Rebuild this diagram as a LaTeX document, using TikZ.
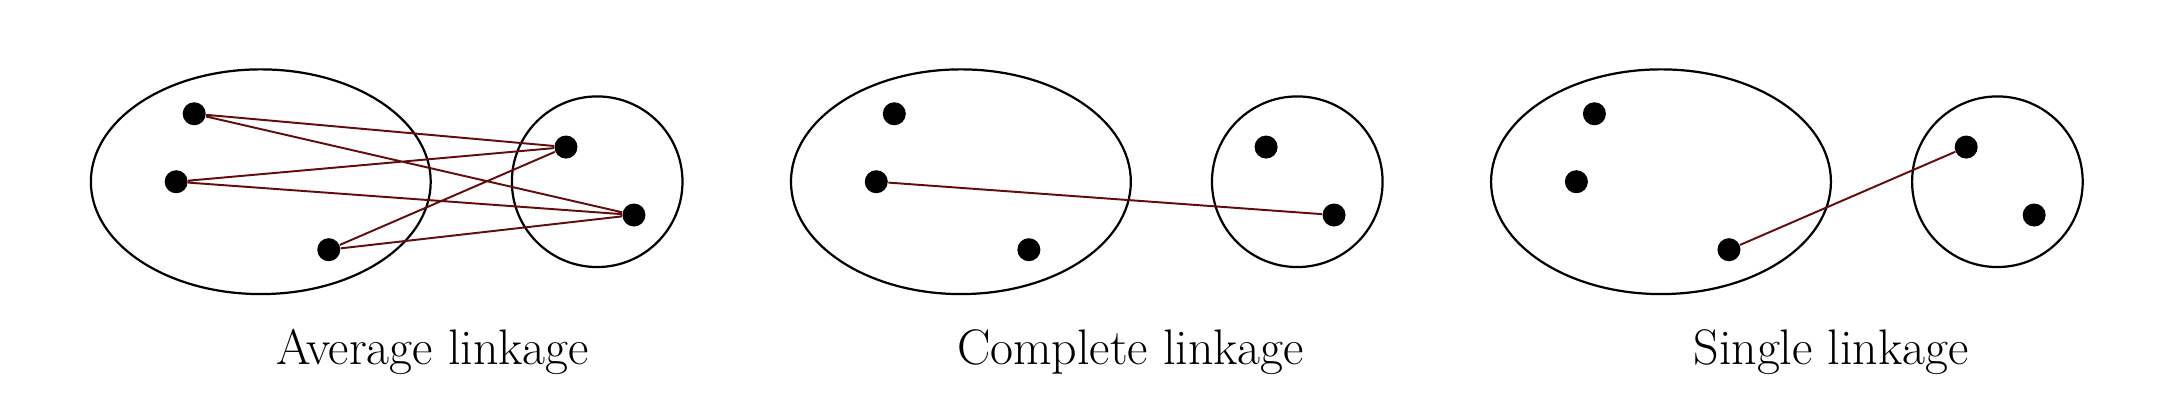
\documentclass[tikz,border=0pt]{standalone}
\usetikzlibrary{shapes.geometric}
\definecolor{linkred}{RGB}{100,12,12}
\begin{document}
\begin{tikzpicture}[x=0.5pt,y=-0.5pt,
      dot/.style={circle,fill=black,inner sep=0pt,minimum size=8.3pt},
      big cluster/.style={ellipse,draw,line width=0.8pt,inner sep=0pt,minimum width=122.5pt,minimum height=81pt},
      small cluster/.style={circle,draw,line width=0.8pt,inner sep=0pt,minimum size=61.5pt},
      link/.style={draw=linkred,line width=0.7pt},
      caption/.style={anchor=base,font=\fontsize{18}{21}\selectfont}]
  \useasboundingbox (0,0) rectangle (1560,301.3);

  % average linkage
  \node[big cluster] (aA) at (188,131) {};
  \node[small cluster] (aB) at (430.5,131) {};
  \node[dot] (a1) at (140,82) {};
  \node[dot] (a2) at (127,131) {};
  \node[dot] (a3) at (237,180) {};
  \node[dot] (a4) at (408,106) {};
  \node[dot] (a5) at (457,155) {};
  \path[link]
    (a1) -- (a4)  (a1) -- (a5)
    (a2) -- (a4)  (a2) -- (a5)
    (a3) -- (a4)  (a3) -- (a5);
  \node[caption] (aT) at (312,263) {Average linkage};

  % complete linkage
  \node[big cluster] (cA) at (692.7,131) {};
  \node[small cluster] (cB) at (935.2,131) {};
  \node[dot] (c1) at (644.7,82) {};
  \node[dot] (c2) at (631.7,131) {};
  \node[dot] (c3) at (741.7,180) {};
  \node[dot] (c4) at (912.7,106) {};
  \node[dot] (c5) at (961.7,155) {};
  \path[link] (c2) -- (c5);
  \node[caption] (cT) at (815,263) {Complete linkage};

  % single linkage
  \node[big cluster] (sA) at (1197.4,131) {};
  \node[small cluster] (sB) at (1439.9,131) {};
  \node[dot] (s1) at (1149.4,82) {};
  \node[dot] (s2) at (1136.4,131) {};
  \node[dot] (s3) at (1246.4,180) {};
  \node[dot] (s4) at (1417.4,106) {};
  \node[dot] (s5) at (1466.4,155) {};
  \path[link] (s3) -- (s4);
  \node[caption] (sT) at (1320,263) {Single linkage};
\end{tikzpicture}
\end{document}
